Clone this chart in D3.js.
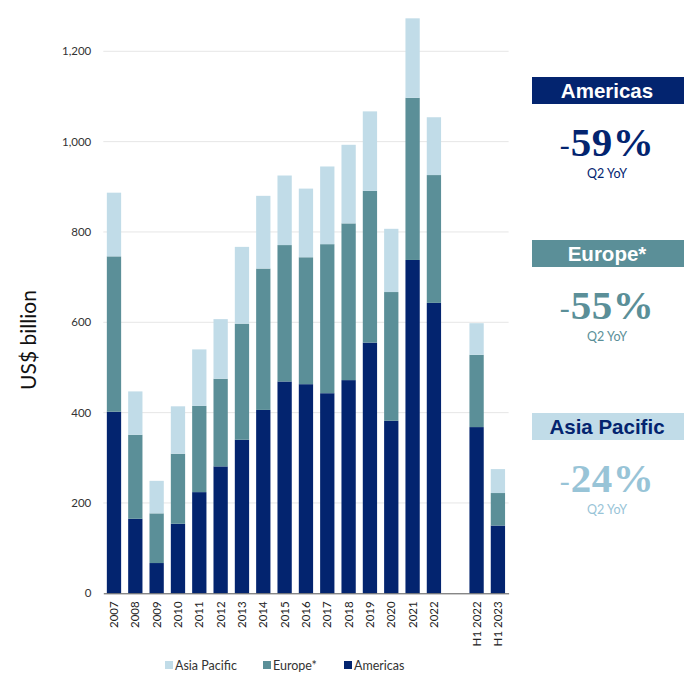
<!DOCTYPE html>
<html>
<head>
<meta charset="utf-8">
<script src="https://cdn.jsdelivr.net/npm/d3@7"></script>
<style>
  html, body { margin: 0; padding: 0; background: #fff; }
  svg { display: block; }
</style>
</head>
<body>
<svg id="chart" width="684" height="674"></svg>
<script>
// Periods shown on the x axis (a blank slot separates full years from half-years)
const periods = ["2007","2008","2009","2010","2011","2012","2013","2014","2015","2016",
                 "2017","2018","2019","2020","2021","2022","H1 2022","H1 2023"];
const gapKey = "gap";

// Deal value by region, US$ billion (stacked: Americas, Europe*, Asia Pacific)
const americas    = [402,165,67,154,224,281,340,406,469,463,443,472,555,382,738,643,368,150];
const europe      = [344,186,110,155,191,194,257,313,302,281,330,347,336,285,359,283,160,72];
const asiaPacific = [141,96,72,105,125,132,170,161,154,152,172,174,176,140,176,128,70,53];

const seriesNames  = ["Americas", "Europe*", "Asia Pacific"];
const seriesColors = ["#03246f", "#5b8f98", "#c1dce8"];

const yTicks = [0, 200, 400, 600, 800, 1000, 1200];

// Regional Q2 year-over-year change callouts
const callouts = [
  { region: "Americas",     change: "59%", boxFill: "#03246f", boxText: "#ffffff", valueColor: "#03246f", top: 77 },
  { region: "Europe*",      change: "55%", boxFill: "#5b8f98", boxText: "#ffffff", valueColor: "#5b8f98", top: 240 },
  { region: "Asia Pacific", change: "24%", boxFill: "#c1dce8", boxText: "#03246f", valueColor: "#98c4d7", top: 413 }
];

const svg = d3.select("#chart");
const sansFont = "Lato, 'Open Sans', sans-serif";

const x = d3.scaleBand()
  .domain([...periods.slice(0, 16), gapKey, ...periods.slice(16)])
  .range([103.3, 508.6])
  .paddingInner(0.33)
  .paddingOuter(0.166);

const y = d3.scaleLinear().domain([0, 1200]).range([593.3, 51.3]);

// Stack the three regions
const rows = periods.map((p, i) => ({
  period: p,
  "Americas": americas[i],
  "Europe*": europe[i],
  "Asia Pacific": asiaPacific[i]
}));
const stacked = d3.stack().keys(seriesNames)(rows);

// Gridlines
svg.append("g")
  .selectAll("line")
  .data(yTicks.filter(d => d > 0))
  .join("line")
  .attr("x1", 103.3).attr("x2", 508.6)
  .attr("y1", d => y(d)).attr("y2", d => y(d))
  .attr("stroke", "#e6e6e6").attr("stroke-width", 1);

// Bars
svg.append("g")
  .selectAll("g")
  .data(stacked)
  .join("g")
  .attr("fill", (d, i) => seriesColors[i])
  .selectAll("rect")
  .data(d => d)
  .join("rect")
  .attr("x", d => x(d.data.period))
  .attr("width", x.bandwidth())
  .attr("y", d => y(d[1]))
  .attr("height", d => y(d[0]) - y(d[1]));

// Y axis
const yAxis = svg.append("g")
  .attr("transform", "translate(103.3,0)")
  .call(d3.axisLeft(y).tickValues(yTicks).tickSize(0).tickPadding(12).tickFormat(d3.format(",")));
yAxis.select(".domain").remove();
yAxis.selectAll("text")
  .attr("font-family", sansFont).attr("font-size", 11.5).attr("fill", "#333");

// X axis
const xAxis = svg.append("g")
  .attr("transform", "translate(0,593.3)")
  .call(d3.axisBottom(x).tickValues(periods).tickSize(0).tickPadding(8));
xAxis.select(".domain")
  .attr("stroke", "#555").attr("stroke-width", 1);
xAxis.selectAll("text")
  .attr("font-family", sansFont).attr("font-size", 11.5).attr("fill", "#222")
  .attr("transform", "rotate(-90)")
  .attr("text-anchor", "end")
  .attr("x", -8).attr("y", 0).attr("dy", "0.35em");

// Y axis title
svg.append("text")
  .attr("transform", "translate(36,340) rotate(-90)")
  .attr("text-anchor", "middle")
  .attr("font-family", sansFont).attr("font-size", 21).attr("fill", "#111")
  .text("US$ billion");

// Legend
const legendItems = [
  { name: "Asia Pacific", color: seriesColors[2], x: 165 },
  { name: "Europe*",      color: seriesColors[1], x: 263 },
  { name: "Americas",     color: seriesColors[0], x: 344 }
];
const legend = svg.append("g");
legend.selectAll("rect")
  .data(legendItems).join("rect")
  .attr("x", d => d.x).attr("y", 661).attr("width", 8).attr("height", 8)
  .attr("fill", d => d.color);
legend.selectAll("text")
  .data(legendItems).join("text")
  .attr("x", d => d.x + 10).attr("y", 670)
  .attr("font-family", sansFont).attr("font-size", 12.5).attr("fill", "#333")
  .text(d => d.name);

// Callouts on the right
const cx = 607;
const panel = svg.append("g").selectAll("g").data(callouts).join("g");
panel.append("rect")
  .attr("x", 532).attr("y", d => d.top).attr("width", 152).attr("height", 27)
  .attr("fill", d => d.boxFill);
panel.append("text")
  .attr("x", cx).attr("y", d => d.top + 20.5)
  .attr("text-anchor", "middle")
  .attr("font-family", "'Liberation Sans', Arial, sans-serif").attr("font-weight", "bold")
  .attr("font-size", 20.5).attr("fill", d => d.boxText)
  .text(d => d.region);
const big = panel.append("text")
  .attr("x", cx).attr("y", d => d.top + 79)
  .attr("text-anchor", "middle")
  .attr("font-family", "'Liberation Serif', 'DejaVu Serif', serif")
  .attr("fill", d => d.valueColor);
big.append("tspan").attr("font-size", 30).attr("font-weight", "normal").attr("dy", -1).text("-");
big.append("tspan").attr("font-size", 41).attr("font-weight", "bold").attr("dy", 1).attr("dx", 1)
  .attr("letter-spacing", 0.5).text(d => d.change);
panel.append("text")
  .attr("x", cx).attr("y", d => d.top + 101)
  .attr("text-anchor", "middle")
  .attr("font-family", sansFont).attr("font-size", 12.5)
  .attr("fill", d => d.valueColor)
  .text("Q2 YoY");
</script>
</body>
</html>
